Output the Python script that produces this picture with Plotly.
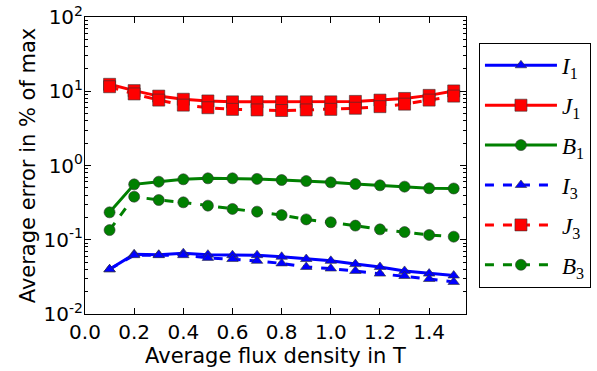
import plotly.graph_objects as go

flux = [0.1, 0.2, 0.3, 0.4, 0.5, 0.6, 0.7, 0.8, 0.9, 1.0, 1.1, 1.2, 1.3, 1.4, 1.5]

I1 = [0.040, 0.064, 0.063, 0.066, 0.063, 0.062, 0.062, 0.059, 0.055, 0.052, 0.047, 0.043, 0.038, 0.035, 0.033]
J1 = [12.4, 10.2, 8.6, 7.8, 7.4, 7.2, 7.2, 7.2, 7.2, 7.2, 7.3, 7.6, 8.0, 8.8, 10.1]
B1 = [0.234, 0.557, 0.605, 0.652, 0.672, 0.672, 0.660, 0.638, 0.618, 0.593, 0.563, 0.541, 0.519, 0.493, 0.490]
I3 = [0.040, 0.062, 0.062, 0.062, 0.057, 0.055, 0.052, 0.048, 0.043, 0.041, 0.038, 0.035, 0.0325, 0.0296, 0.027]
J3 = [11.5, 9.2, 7.6, 6.5, 6.0, 5.7, 5.6, 5.5, 5.6, 5.7, 5.9, 6.2, 6.7, 7.6, 8.6]
B3 = [0.135, 0.380, 0.343, 0.319, 0.288, 0.260, 0.239, 0.215, 0.188, 0.172, 0.155, 0.138, 0.127, 0.116, 0.110]

y_tickvals = [0.01, 0.1, 1, 10, 100]
y_ticktext = ["10<sup>-2</sup>", "10<sup>-1</sup>", "10<sup>0</sup>", "10<sup>1</sup>", "10<sup>2</sup>"]
y_minor = [m * 10.0 ** e for e in range(-2, 2) for m in range(2, 10)]
x_tickvals = [0.0, 0.2, 0.4, 0.6, 0.8, 1.0, 1.2, 1.4]

BLUE, RED, GREEN = "#0000ff", "#ff0000", "#008000"

series = [
    ("<i>I</i><sub>1</sub>", I1, BLUE, "triangle-up", 10, "solid"),
    ("<i>J</i><sub>1</sub>", J1, RED, "square", 12, "solid"),
    ("<i>B</i><sub>1</sub>", B1, GREEN, "circle", 11, "solid"),
    ("<i>I</i><sub>3</sub>", I3, BLUE, "triangle-up", 10, "dash"),
    ("<i>J</i><sub>3</sub>", J3, RED, "square", 12, "dash"),
    ("<i>B</i><sub>3</sub>", B3, GREEN, "circle", 11, "dash"),
]

fig = go.Figure()
for i, (name, vals, color, symbol, size, dash) in enumerate(series):
    fig.add_trace(go.Scatter(
        x=flux, y=vals, name=name, mode="lines+markers",
        legendgroup=f"g{i}",
        line=dict(color=color, width=3, dash=dash),
        marker=dict(symbol=symbol, size=size, color=color,
                    line=dict(color="#333333", width=0.6)),
    ))

axis_common = dict(
    showline=True, linecolor="black", linewidth=1, mirror="ticks",
    ticks="inside", ticklen=6, tickcolor="black", tickwidth=1,
    showgrid=False, zeroline=False, automargin=False,
    tickfont=dict(family="DejaVu Sans", size=20, color="black"),
)
title_font = dict(family="DejaVu Sans", size=21, color="black")

fig.update_xaxes(
    range=[0, 1.55], tickvals=x_tickvals,
    ticktext=[f"{v:.1f}" for v in x_tickvals],
    title=dict(text="Average flux density in T", standoff=4, font=title_font),
    **axis_common,
)
fig.update_yaxes(
    type="log", range=[-2, 2], tickvals=y_tickvals, ticktext=y_ticktext,
    minor=dict(ticks="inside", ticklen=3, tickcolor="black", tickwidth=1,
               tickvals=y_minor, showgrid=False),
    ticklabelstandoff=-3,
    title=dict(text="Average error in % of max", standoff=2, font=title_font),
    **axis_common,
)

fig.update_layout(
    width=597, height=371,
    margin=dict(l=85, r=131, t=17, b=57, autoexpand=False),
    paper_bgcolor="white", plot_bgcolor="white",
    showlegend=True,
    legend=dict(
        x=1.034, y=0.913, xanchor="left", yanchor="top",
        bordercolor="black", borderwidth=1, bgcolor="white",
        font=dict(family="Liberation Serif", size=23, color="black"),
        tracegroupgap=7, itemwidth=72,
    ),
)

fig.write_html("out.html")
